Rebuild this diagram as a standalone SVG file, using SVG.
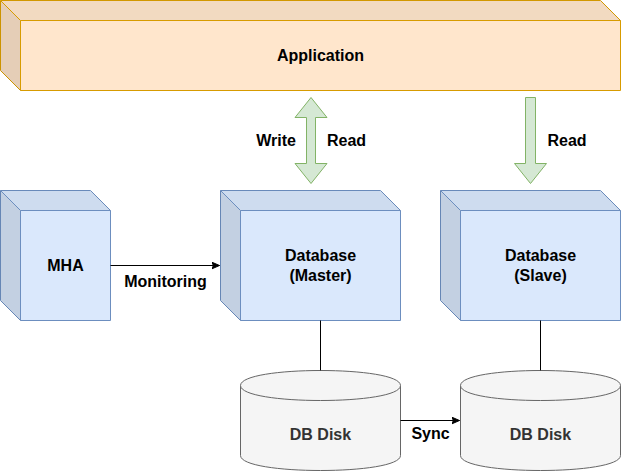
<svg xmlns="http://www.w3.org/2000/svg" width="621" height="471" viewBox="0 0 621 471">
<defs>
<style>
text{font-family:"Liberation Sans",Arial,Helvetica,sans-serif;font-size:16px;font-weight:bold;fill:#000;text-anchor:middle}
.app{fill:#ffe6cc;stroke:#d79b00;stroke-width:1}
.blue{fill:#dae8fc;stroke:#6c8ebf;stroke-width:1}
.dark1{fill:#000;fill-opacity:0.05;stroke:none}
.dark2{fill:#000;fill-opacity:0.1;stroke:none}
.edge{fill:none;stroke-width:1}
.disk{fill:#f5f5f5;stroke:#666666;stroke-width:1}
.disktxt{fill:#333333}
.big{fill:#d5e8d4;stroke:#82b366;stroke-width:1;stroke-linejoin:miter}
.conn{fill:none;stroke:#000;stroke-width:1}
</style>
<marker id="ah" markerWidth="10" markerHeight="10" refX="8" refY="4" orient="auto" markerUnits="userSpaceOnUse">
<path d="M0,0.5 L8,4 L0,7.5 L2,4 Z" fill="#000" stroke="#000" stroke-width="1"/>
</marker>
</defs>
<g transform="translate(0.5,0.5)">
<g id="application">
<path class="app" d="M0,0 H600 L620,20 V90 H20 L0,70 Z"/>
<path class="dark1" d="M0,0 H600 L620,20 H20 Z"/>
<path class="dark2" d="M0,0 L20,20 V90 L0,70 Z"/>
<path class="edge" stroke="#d79b00" d="M0,0 L20,20 H620 M20,20 V90"/>
<text x="320" y="60.5">Application</text>
</g>
<g id="mha">
<path class="blue" d="M0,190 H90 L110,210 V320 H20 L0,300 Z"/>
<path class="dark1" d="M0,190 H90 L110,210 H20 Z"/>
<path class="dark2" d="M0,190 L20,210 V320 L0,300 Z"/>
<path class="edge" stroke="#6c8ebf" d="M0,190 L20,210 H110 M20,210 V320"/>
<text x="65" y="270.5">MHA</text>
</g>
<g id="master">
<path class="blue" d="M220,190 H380 L400,210 V320 H240 L220,300 Z"/>
<path class="dark1" d="M220,190 H380 L400,210 H240 Z"/>
<path class="dark2" d="M220,190 L240,210 V320 L220,300 Z"/>
<path class="edge" stroke="#6c8ebf" d="M220,190 L240,210 H400 M240,210 V320"/>
<text x="320" y="260.5">Database</text>
<text x="320" y="280.5">(Master)</text>
</g>
<g id="slave">
<path class="blue" d="M440,190 H600 L620,210 V320 H460 L440,300 Z"/>
<path class="dark1" d="M440,190 H600 L620,210 H460 Z"/>
<path class="dark2" d="M440,190 L460,210 V320 L440,300 Z"/>
<path class="edge" stroke="#6c8ebf" d="M440,190 L460,210 H620 M460,210 V320"/>
<text x="540" y="260.5">Database</text>
<text x="540" y="280.5">(Slave)</text>
</g>
<g id="disk-master">
<path class="disk" d="M240,385 C240,365 400,365 400,385 V455 C400,475 240,475 240,455 Z"/>
<path class="disk" fill="none" d="M240,385 C240,405 400,405 400,385"/>
<text class="disktxt" x="320" y="439">DB Disk</text>
</g>
<g id="disk-slave">
<path class="disk" d="M460,385 C460,365 620,365 620,385 V455 C620,475 460,475 460,455 Z"/>
<path class="disk" fill="none" d="M460,385 C460,405 620,405 620,385"/>
<text class="disktxt" x="540" y="439">DB Disk</text>
</g>
<g id="connectors">
<path class="big" d="M310.5,97 L326.5,117 H315 V163 H326.5 L310.5,183 L294.5,163 H306 V117 H294.5 Z"/>
<path class="big" d="M525,97 H535 V163 H546 L530,183 L514,163 H525 Z"/>
<path class="conn" d="M110,265 H219" marker-end="url(#ah)"/>
<path class="conn" d="M400,420 H459" marker-end="url(#ah)"/>
<path class="conn" d="M320,320 V370"/>
<path class="conn" d="M540,320 V370"/>
<text x="275.5" y="145">Write</text>
<text x="346" y="145">Read</text>
<text x="566.5" y="145">Read</text>
<text x="165" y="286">Monitoring</text>
<text x="430" y="438">Sync</text>
</g>
</g>
</svg>
